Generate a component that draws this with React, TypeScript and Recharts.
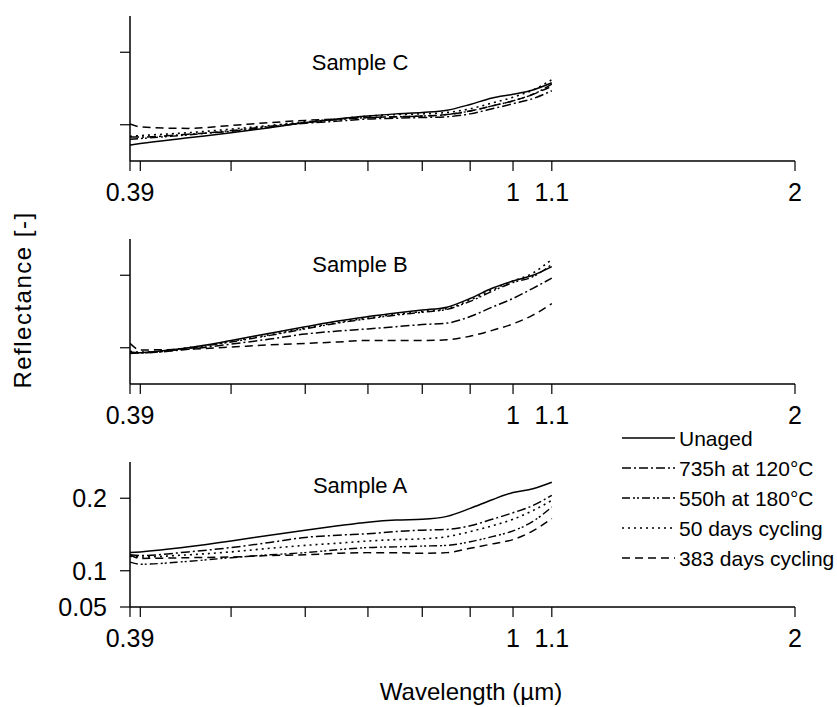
import { CartesianGrid, Line, LineChart, XAxis, YAxis } from 'recharts'

const WAVELENGTH = [0.39, 0.4, 0.45, 0.5, 0.55, 0.6, 0.65, 0.7, 0.75, 0.8, 0.85, 0.9, 0.95, 1.0, 1.05, 1.1]

const A_UNAGED = [0.125, 0.126, 0.133, 0.141, 0.149, 0.156, 0.162, 0.167, 0.17, 0.171, 0.175, 0.186, 0.198, 0.208, 0.213, 0.222]
const A_735H = [0.122, 0.121, 0.126, 0.132, 0.139, 0.146, 0.149, 0.151, 0.154, 0.156, 0.157, 0.162, 0.171, 0.18, 0.19, 0.204]
const A_550H = [0.112, 0.109, 0.113, 0.118, 0.122, 0.125, 0.129, 0.132, 0.133, 0.134, 0.135, 0.14, 0.147, 0.155, 0.168, 0.188]
const A_50D = [0.12, 0.119, 0.122, 0.126, 0.131, 0.135, 0.138, 0.141, 0.143, 0.144, 0.147, 0.154, 0.162, 0.171, 0.183, 0.197]
const A_383D = [0.122, 0.117, 0.118, 0.119, 0.121, 0.122, 0.124, 0.125, 0.125, 0.124, 0.125, 0.131, 0.137, 0.143, 0.155, 0.172]

const B_UNAGED = [0.092, 0.093, 0.1, 0.11, 0.12, 0.129, 0.137, 0.143, 0.148, 0.152, 0.156, 0.168, 0.182, 0.192, 0.2, 0.212]
const B_735H = [0.094, 0.093, 0.098, 0.105, 0.112, 0.119, 0.123, 0.126, 0.129, 0.132, 0.134, 0.143, 0.156, 0.168, 0.182, 0.196]
const B_550H = [0.093, 0.093, 0.099, 0.108, 0.117, 0.126, 0.134, 0.14, 0.145, 0.149, 0.153, 0.164, 0.178, 0.19, 0.198, 0.215]
const B_50D = [0.095, 0.094, 0.1, 0.109, 0.118, 0.127, 0.135, 0.141, 0.146, 0.15, 0.154, 0.166, 0.18, 0.192, 0.203, 0.222]
const B_383D = [0.106, 0.097, 0.098, 0.101, 0.104, 0.106, 0.108, 0.11, 0.11, 0.11, 0.111, 0.116, 0.124, 0.133, 0.145, 0.161]

const C_UNAGED = [0.072, 0.074, 0.082, 0.089, 0.096, 0.103, 0.108, 0.112, 0.115, 0.117, 0.12, 0.128, 0.137, 0.142, 0.148, 0.158]
const C_735H = [0.083, 0.083, 0.087, 0.091, 0.097, 0.102, 0.105, 0.108, 0.109, 0.11, 0.111, 0.115, 0.122, 0.129, 0.136, 0.147]
const C_550H = [0.08, 0.081, 0.086, 0.092, 0.098, 0.103, 0.107, 0.11, 0.111, 0.112, 0.114, 0.119, 0.126, 0.133, 0.142, 0.156]
const C_50D = [0.084, 0.085, 0.089, 0.094, 0.099, 0.104, 0.108, 0.112, 0.114, 0.115, 0.117, 0.122, 0.13, 0.138, 0.148, 0.162]
const C_383D = [0.101, 0.097, 0.095, 0.099, 0.103, 0.106, 0.108, 0.11, 0.111, 0.112, 0.114, 0.119, 0.126, 0.133, 0.142, 0.153]

const X_TICKS = [0.39, 0.4, 0.5, 0.6, 0.7, 0.8, 0.9, 1, 1.1, 2]
const X_LABELS = [0.39, 1, 1.1, 2]
const Y_TICKS_A = [0.05, 0.1, 0.2]
const Y_TICKS_BC = [0.1, 0.2]

const SERIES = [
  { key: 'unaged', name: 'Unaged', dash: undefined as string | undefined, width: 1.5 },
  { key: 'h735', name: '735h at 120°C', dash: '9 3 2 3', width: 1.5 },
  { key: 'h550', name: '550h at 180°C', dash: '8 3 2 2 2 3', width: 1.4 },
  { key: 'd50', name: '50 days cycling', dash: '2 4', width: 1.6 },
  { key: 'd383', name: '383 days cycling', dash: '8 5', width: 1.5 },
]

const FONT = '"Liberation Sans", Arial, sans-serif'

function rows(u: number[], a: number[], b: number[], c: number[], d: number[]) {
  return WAVELENGTH.map((w, i) => ({ w, unaged: u[i], h735: a[i], h550: b[i], d50: c[i], d383: d[i] }))
}

const PANELS = [
  { label: 'Sample C', top: 6, data: rows(C_UNAGED, C_735H, C_550H, C_50D, C_383D), yTicks: Y_TICKS_BC, showY: false, labelY: 63 },
  { label: 'Sample B', top: 229, data: rows(B_UNAGED, B_735H, B_550H, B_50D, B_383D), yTicks: Y_TICKS_BC, showY: false, labelY: 265 },
  { label: 'Sample A', top: 452, data: rows(A_UNAGED, A_735H, A_550H, A_50D, A_383D), yTicks: Y_TICKS_A, showY: true, labelY: 486 },
]

// only some of the log ticks get a label
const XTick = (props: any) => {
  const { x, y, payload } = props
  if (!X_LABELS.includes(payload.value)) return <g />
  return (
    <text x={x} y={y + 28} textAnchor="middle" fontSize={25} fontFamily={FONT} fill="#000">
      {payload.value}
    </text>
  )
}

const YTick = (props: any) => {
  const { x, y, payload } = props
  return (
    <text x={x - 11} y={y + 9} textAnchor="end" fontSize={25} fontFamily={FONT} fill="#000">
      {payload.value}
    </text>
  )
}

function Panel({ data, yTicks, showY }: { data: any[]; yTicks: number[]; showY: boolean }) {
  return (
    <LineChart width={837} height={200} data={data} margin={{ top: 10, right: 42, left: 0, bottom: 0 }}>
      <CartesianGrid stroke="none" />
      <XAxis
        dataKey="w"
        type="number"
        scale="log"
        domain={[0.39, 2]}
        ticks={X_TICKS}
        interval={0}
        height={45}
        tickSize={10}
        axisLine={{ stroke: '#000', strokeWidth: 1.5 }}
        tickLine={{ stroke: '#000', strokeWidth: 1.2 }}
        tick={<XTick />}
        allowDataOverflow
      />
      <YAxis
        type="number"
        domain={[0.05, 0.25]}
        ticks={yTicks}
        interval={0}
        width={130}
        tickSize={10}
        axisLine={{ stroke: '#000', strokeWidth: 1.5 }}
        tickLine={{ stroke: '#000', strokeWidth: 1.2 }}
        tick={showY ? <YTick /> : <g />}
        allowDataOverflow
      />
      {SERIES.map(s => (
        <Line
          key={s.key}
          dataKey={s.key}
          name={s.name}
          type="monotone"
          stroke="#000"
          strokeWidth={s.width}
          strokeDasharray={s.dash}
          dot={false}
          activeDot={false}
          isAnimationActive={false}
        />
      ))}
    </LineChart>
  )
}

export default function App() {
  return (
    <div style={{ position: 'absolute', left: 0, top: 0, width: 837, height: 707, background: '#fff', fontFamily: FONT }}>
      {PANELS.map(p => (
        <div key={p.label} style={{ position: 'absolute', left: 0, top: p.top }}>
          <Panel data={p.data} yTicks={p.yTicks} showY={p.showY} />
        </div>
      ))}
      {PANELS.map(p => (
        <div
          key={p.label + '-t'}
          style={{ position: 'absolute', left: 360, top: p.labelY, transform: 'translate(-50%, -50%)', fontSize: 22, whiteSpace: 'nowrap' }}
        >
          {p.label}
        </div>
      ))}
      <div
        style={{
          position: 'absolute',
          left: 23,
          top: 300,
          transform: 'translate(-50%, -50%) rotate(-90deg)',
          fontSize: 24,
          whiteSpace: 'nowrap',
          letterSpacing: 1.5,
        }}
      >
        Reflectance [-]
      </div>
      <div style={{ position: 'absolute', left: 471, top: 692, transform: 'translate(-50%, -50%)', fontSize: 24, whiteSpace: 'nowrap' }}>
        Wavelength (µm)
      </div>
      <svg style={{ position: 'absolute', left: 0, top: 0 }} width={837} height={707} pointerEvents="none">
        {SERIES.map((s, i) => {
          const y = 438 + i * 30
          return (
            <g key={s.key}>
              <line x1={622} x2={675} y1={y} y2={y} stroke="#000" strokeWidth={s.width} strokeDasharray={s.dash} />
              <text x={679} y={y + 7.5} fontSize={21} fontFamily={FONT} fill="#000">
                {s.name}
              </text>
            </g>
          )
        })}
      </svg>
    </div>
  )
}
